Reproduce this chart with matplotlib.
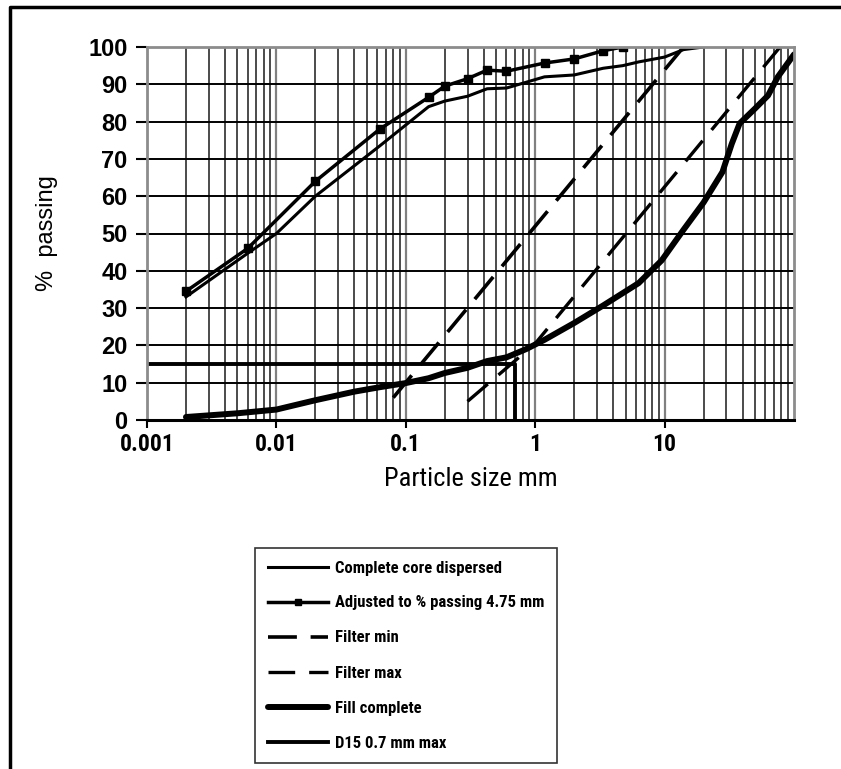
import matplotlib
matplotlib.use("Agg")
import matplotlib.pyplot as plt
from matplotlib.ticker import FixedLocator, LogLocator, NullFormatter
from matplotlib.lines import Line2D

plt.rcParams["font.family"] = ["Liberation Sans", "DejaVu Sans"]

# Data

core_size = [0.002, 0.006, 0.01, 0.02, 0.063, 0.15, 0.2, 0.3, 0.425, 0.6,
             1.18, 2.0, 3.35, 4.75, 6.3, 10, 14, 20]
core_pass = [33, 44.7, 50, 60, 73.5, 84, 85.5, 86.8, 88.8, 89,
             92, 92.5, 94.3, 95, 96, 97.3, 99.3, 100]

adj_size = [0.002, 0.006, 0.02, 0.063, 0.15, 0.2, 0.3, 0.425, 0.6,
            1.18, 2.0, 3.35, 4.75]
adj_pass = [34.5, 46, 64, 78, 86.5, 89.5, 91.5, 93.8, 93.5,
            95.7, 96.8, 99, 100]

fmin_size = [0.08, 14]
fmin_pass = [6, 100]

fmax_size = [0.3, 1.0, 78]
fmax_pass = [5, 20.5, 100]

fill_size = [0.002, 0.005, 0.01, 0.02, 0.04, 0.063, 0.1, 0.15, 0.2, 0.3,
             0.425, 0.6, 0.85, 1.18, 2.0, 3.35, 6.3, 9.5, 14, 20, 28, 33,
             38, 50, 63, 75, 100]
fill_pass = [0.8, 1.8, 2.8, 5.3, 7.6, 8.8, 9.9, 11.2, 12.6, 14,
             15.8, 16.8, 19, 21.5, 26, 30.7, 36.7, 42.8, 51, 58.3, 66.5, 74,
             79.5, 83.5, 87, 92, 98]

d15_size = [0.001, 0.7, 0.7]
d15_pass = [15, 15, -2]

x_ticks = [0.001, 0.01, 0.1, 1, 10]
x_labels = ["0.001", "0.01", "0.1", "1", "10"]
y_ticks = list(range(0, 101, 10))

narrow = ["Roboto Condensed", "Liberation Sans", "DejaVu Sans"]

# Figure

fig = plt.figure(figsize=(8.41, 7.69), dpi=100)
ax = fig.add_axes([147 / 841, 1 - 420 / 769, 647 / 841, 373 / 769])

ax.plot(core_size, core_pass, color="black", lw=2.2,
        label="Complete core dispersed")
ax.plot(adj_size, adj_pass, color="black", lw=2.5, marker="s", ms=5.5,
        label="Adjusted to % passing 4.75 mm")
ax.plot(fmin_size, fmin_pass, color="black", lw=2.6,
        linestyle=(0, (8, 3.8)), label="Filter min")
ax.plot(fmax_size, fmax_pass, color="black", lw=2.4,
        linestyle=(0, (8, 4.2)), label="Filter max")
ax.plot(fill_size, fill_pass, color="black", lw=4.3,
        solid_capstyle="round", label="Fill complete")
ax.plot(d15_size, d15_pass, color="black", lw=2.8,
        label="D15 0.7 mm max")

ax.set_xscale("log")
ax.set_xlim(0.001, 100)
ax.set_ylim(0, 100)

ax.xaxis.set_major_locator(FixedLocator(x_ticks))
ax.set_xticklabels(x_labels)
ax.xaxis.set_minor_locator(LogLocator(base=10, subs=range(2, 10)))
ax.xaxis.set_minor_formatter(NullFormatter())
ax.set_yticks(y_ticks)

ax.grid(True, which="major", axis="x", color="0.5", lw=1.6)
ax.grid(True, which="minor", axis="x", color="0.1", lw=1.1)
ax.grid(True, which="major", axis="y", color="black", lw=1.4)
ax.set_axisbelow(True)

for side in ["top", "right", "left"]:
    ax.spines[side].set_color("0.55")
    ax.spines[side].set_linewidth(2)
ax.spines["bottom"].set_color("black")
ax.spines["bottom"].set_linewidth(2.2)

ax.tick_params(axis="x", which="major", direction="out", length=6,
               width=1.5, pad=3)
ax.tick_params(axis="x", which="minor", length=0)
ax.tick_params(axis="y", direction="out", length=8, width=1.5, pad=6)
for lab in ax.get_xticklabels():
    lab.set_fontweight("bold")
    lab.set_fontsize(17)
    lab.set_family(narrow)
for lab in ax.get_yticklabels():
    lab.set_fontweight("bold")
    lab.set_fontsize(17)

ax.set_xlabel("Particle size mm", fontsize=19, labelpad=8, family=narrow)
ax.set_ylabel("%  passing", fontsize=17, labelpad=22)

# Legend below the plot

leg = fig.legend(loc="upper left", bbox_to_anchor=(255 / 841, 1 - 548 / 769),
                 borderaxespad=0, frameon=True, fancybox=False,
                 edgecolor="black",
                 prop={"size": 12, "weight": "bold", "family": narrow},
                 handlelength=3.6, handletextpad=0.45, labelspacing=1.2,
                 borderpad=0.75, markerscale=0.8)
leg.get_frame().set_linewidth(1.2)

# Outer border of the figure

fig.add_artist(Line2D([10 / 841, 10 / 841, 1], [0, 1 - 7 / 769, 1 - 7 / 769],
                      transform=fig.transFigure, color="black", lw=2.5))

plt.savefig("out.png", dpi=100)
